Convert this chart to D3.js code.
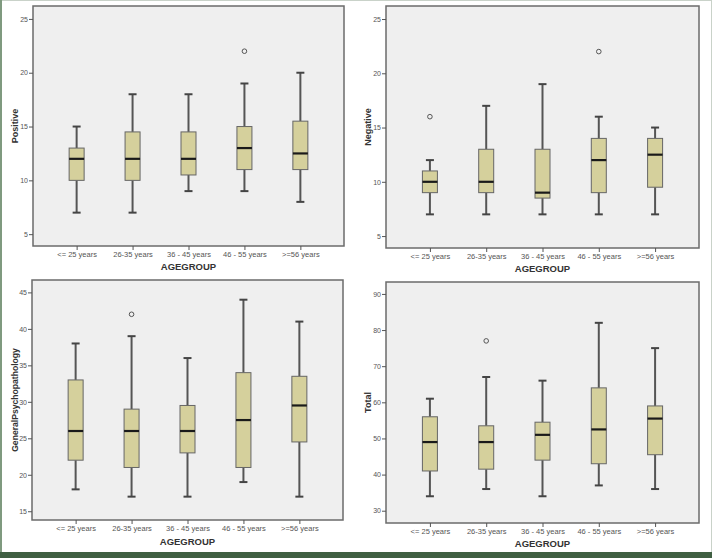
<!DOCTYPE html>
<html><head><meta charset="utf-8">
<script src="https://cdn.jsdelivr.net/npm/d3@7"></script>
<style>
html,body{margin:0;padding:0;background:#fff;}
svg{display:block;}
text{font-family:"Liberation Sans",Arial,sans-serif;}
.tick text{font-family:"Liberation Sans Narrow","Arial Narrow","Liberation Sans",sans-serif;}
</style></head>
<body>
<svg id="c" width="712" height="558"></svg>
<script>
const categories = ["<= 25 years","26-35 years","36 - 45 years","46 - 55 years",">=56 years"];

// each: [whiskerLow, q1, median, q3, whiskerHigh]
const positiveStats = [[7,10,12,13,15],[7,10,12,14.5,18],[9,10.5,12,14.5,18],[9,11,13,15,19],[8,11,12.5,15.5,20]];
const positiveOutliers = [[],[],[],[22],[]];
const positiveTicks = [5,10,15,20,25];

const negativeStats = [[7,9,10,11,12],[7,9,10,13,17],[7,8.5,9,13,19],[7,9,12,14,16],[7,9.5,12.5,14,15]];
const negativeOutliers = [[16],[],[],[22],[]];
const negativeTicks = [5,10,15,20,25];

const generalStats = [[18,22,26,33,38],[17,21,26,29,39],[17,23,26,29.5,36],[19,21,27.5,34,44],[17,24.5,29.5,33.5,41]];
const generalOutliers = [[],[42],[],[],[]];
const generalTicks = [15,20,25,30,35,40,45];

const totalStats = [[34,41,49,56,61],[36,41.5,49,53.5,67],[34,44,51,54.5,66],[37,43,52.5,64,82],[36,45.5,55.5,59,75]];
const totalOutliers = [[],[77],[],[],[]];
const totalTicks = [30,40,50,60,70,80,90];

const svg = d3.select("#c");

// outer frame
svg.append("rect").attr("x",0).attr("y",0).attr("width",712).attr("height",558).attr("fill","#fff");
svg.append("rect").attr("x",0.5).attr("y",0.5).attr("width",711).attr("height",557).attr("fill","none").attr("stroke","#c9d2c9");
svg.append("rect").attr("x",0).attr("y",0).attr("width",2).attr("height",558).attr("fill","#7f9a7f");
svg.append("rect").attr("x",0).attr("y",552).attr("width",712).attr("height",6).attr("fill","#3f5f42");

const panels = [
  {label:"Positive", stats:positiveStats, outliers:positiveOutliers, ticks:positiveTicks,
   x0:33, x1:344, y0:6, y1:246, domain:[3.9,26.2], labelX:15, tickLabelY:257, titleY:270},
  {label:"Negative", stats:negativeStats, outliers:negativeOutliers, ticks:negativeTicks,
   x0:386, x1:699, y0:6, y1:248, domain:[3.9,26.2], labelX:368, tickLabelY:260, titleY:272},
  {label:"GeneralPsychopathology", stats:generalStats, outliers:generalOutliers, ticks:generalTicks,
   x0:32, x1:343, y0:280, y1:520, domain:[13.8,46.7], labelX:15, tickLabelY:532, titleY:545},
  {label:"Total", stats:totalStats, outliers:totalOutliers, ticks:totalTicks,
   x0:386, x1:699, y0:282, y1:523, domain:[26.6,93.3], labelX:368, tickLabelY:534, titleY:547}
];

panels.forEach(p => {
  const g = svg.append("g");
  const x = d3.scalePoint().domain(categories).range([p.x0, p.x1]).padding(0.78);
  const y = d3.scaleLinear().domain(p.domain).range([p.y1, p.y0]);

  g.append("rect").attr("x",p.x0).attr("y",p.y0).attr("width",p.x1-p.x0).attr("height",p.y1-p.y0)
    .attr("fill","#efefef").attr("stroke","#6b6b6b").attr("stroke-width",1.5);

  // y axis
  const ya = g.append("g").attr("transform",`translate(${p.x0},0)`)
    .call(d3.axisLeft(y).tickValues(p.ticks).tickSize(4).tickPadding(1));
  ya.select(".domain").remove();
  ya.selectAll("line").attr("stroke","#555");
  ya.selectAll("text").attr("font-size",7).attr("fill","#555");

  // x axis
  const xa = g.append("g").attr("transform",`translate(0,${p.y1})`)
    .call(d3.axisBottom(x).tickSize(4).tickPadding(4));
  xa.select(".domain").remove();
  xa.selectAll("line").attr("stroke","#555");
  xa.selectAll("text").attr("font-size",7.5).attr("fill","#555").attr("y",6).attr("dy","0.71em");

  g.append("text").attr("x",(p.x0+p.x1)/2).attr("y",p.titleY).attr("text-anchor","middle")
    .attr("font-size",9.5).attr("font-weight","bold").attr("fill","#333").text("AGEGROUP");
  g.append("text").attr("transform",`translate(${p.labelX},${(p.y0+p.y1)/2}) rotate(-90)`)
    .attr("text-anchor","middle").attr("dy","0.35em").attr("font-size",p.label.length>12?8.6:9)
    .attr("font-weight","bold").attr("fill","#333").text(p.label);

  const bw = 15, cw = 8;
  p.stats.forEach((s,i) => {
    const cx = x(categories[i]);
    const [lo,q1,md,q3,hi] = s;
    const bg = g.append("g");
    bg.append("line").attr("x1",cx).attr("x2",cx).attr("y1",y(hi)).attr("y2",y(q3)).attr("stroke","#555").attr("stroke-width",2);
    bg.append("line").attr("x1",cx).attr("x2",cx).attr("y1",y(q1)).attr("y2",y(lo)).attr("stroke","#555").attr("stroke-width",2);
    bg.append("line").attr("x1",cx-cw/2).attr("x2",cx+cw/2).attr("y1",y(hi)).attr("y2",y(hi)).attr("stroke","#444").attr("stroke-width",2);
    bg.append("line").attr("x1",cx-cw/2).attr("x2",cx+cw/2).attr("y1",y(lo)).attr("y2",y(lo)).attr("stroke","#444").attr("stroke-width",2);
    bg.append("rect").attr("x",cx-bw/2).attr("y",y(q3)).attr("width",bw).attr("height",y(q1)-y(q3))
      .attr("fill","#d5d09c").attr("stroke","#666").attr("stroke-width",1);
    bg.append("line").attr("x1",cx-bw/2).attr("x2",cx+bw/2).attr("y1",y(md)).attr("y2",y(md)).attr("stroke","#1a1a1a").attr("stroke-width",2.2);
    p.outliers[i].forEach(o => {
      bg.append("circle").attr("cx",cx).attr("cy",y(o)).attr("r",2.3).attr("fill","none").attr("stroke","#555").attr("stroke-width",1);
    });
  });
});
</script>
</body></html>
